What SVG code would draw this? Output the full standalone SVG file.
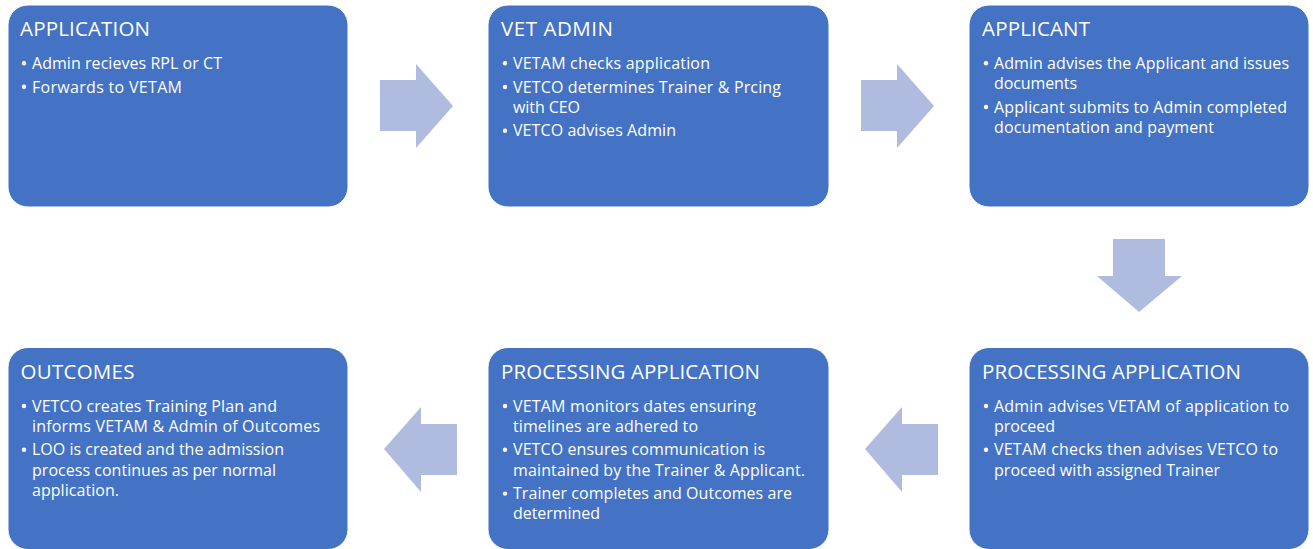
<svg xmlns="http://www.w3.org/2000/svg" width="1313" height="549" viewBox="0 0 1313 549">
<style>
.box{fill:#4472C4;stroke:#ffffff;stroke-width:1}
.arrow{fill:#AFBCDF}
.t{font-family:"Open Sans","Liberation Sans",sans-serif;font-size:20.5px;fill:#ffffff}
.b{font-family:"Open Sans","Liberation Sans",sans-serif;font-size:16px;fill:#ffffff}
.d{fill:#ffffff}
</style>
<defs>
<circle id="dot" class="d" r="2.2"/>
</defs>
<rect width="1313" height="549" fill="#ffffff"/>
<g id="connectors">
<polygon class="arrow" points="380,80 416,80 416,64 453,106 416,148 416,131 380,131"/>
<polygon class="arrow" points="861,80 897,80 897,64 934,106 897,148 897,131 861,131"/>
<polygon class="arrow" points="1113,239 1165,239 1165,276 1182,276 1139,312 1097,276 1113,276"/>
<polygon class="arrow" points="938,424 902,424 902,407 865,449 902,492 902,475 938,475"/>
<polygon class="arrow" points="457,424 421,424 421,407 384,449 421,492 421,475 457,475"/>
</g>
<g id="application">
<rect class="box" x="8" y="5" width="340" height="202" rx="20"/>
<text class="t" x="20" y="36" textLength="130">APPLICATION</text>
<use href="#dot" x="24" y="63.3"/><text class="b" x="32" y="69" textLength="190">Admin recieves RPL or CT</text>
<use href="#dot" x="24" y="86.8"/><text class="b" x="32" y="92.5" textLength="150">Forwards to VETAM</text>
</g>
<g id="vet-admin">
<rect class="box" x="488" y="5" width="341" height="202" rx="20"/>
<text class="t" x="501" y="36" textLength="112">VET ADMIN</text>
<use href="#dot" x="505" y="63.3"/><text class="b" x="513" y="69" textLength="197">VETAM checks application</text>
<use href="#dot" x="505" y="87"/><text class="b" x="513" y="92.7" textLength="268">VETCO determines Trainer &amp; Prcing</text>
<text class="b" x="513" y="112.7" textLength="67">with CEO</text>
<use href="#dot" x="505" y="130.7"/><text class="b" x="513" y="136.4" textLength="163">VETCO advises Admin</text>
</g>
<g id="applicant">
<rect class="box" x="969" y="5" width="340" height="202" rx="20"/>
<text class="t" x="982" y="36" textLength="108">APPLICANT</text>
<use href="#dot" x="986" y="63.3"/><text class="b" x="994" y="69" textLength="295">Admin advises the Applicant and issues</text>
<text class="b" x="994" y="89" textLength="83">documents</text>
<use href="#dot" x="986" y="107"/><text class="b" x="994" y="112.7" textLength="293">Applicant submits to Admin completed</text>
<text class="b" x="994" y="132.7" textLength="220">documentation and payment</text>
</g>
<g id="processing-application-1">
<rect class="box" x="969" y="347.5" width="340" height="202" rx="20"/>
<text class="t" x="982" y="379.3" textLength="259">PROCESSING APPLICATION</text>
<use href="#dot" x="986" y="406"/><text class="b" x="994" y="411.7" textLength="295">Admin advises VETAM of application to</text>
<text class="b" x="994" y="431.7" textLength="61">proceed</text>
<use href="#dot" x="986" y="449.7"/><text class="b" x="994" y="455.4" textLength="284">VETAM checks then advises VETCO to</text>
<text class="b" x="994" y="475.6" textLength="226">proceed with assigned Trainer</text>
</g>
<g id="processing-application-2">
<rect class="box" x="488" y="347.5" width="341" height="202" rx="20"/>
<text class="t" x="501" y="379.3" textLength="259">PROCESSING APPLICATION</text>
<use href="#dot" x="505" y="406"/><text class="b" x="513" y="411.7" textLength="243">VETAM monitors dates ensuring</text>
<text class="b" x="513" y="431.7" textLength="185">timelines are adhered to</text>
<use href="#dot" x="505" y="449.7"/><text class="b" x="513" y="455.4" textLength="252">VETCO ensures communication is</text>
<text class="b" x="513" y="475.6" textLength="292">maintained by the Trainer &amp; Applicant.</text>
<use href="#dot" x="505" y="493.6"/><text class="b" x="513" y="499.3" textLength="279">Trainer completes and Outcomes are</text>
<text class="b" x="513" y="519.3" textLength="87">determined</text>
</g>
<g id="outcomes">
<rect class="box" x="8" y="347.5" width="340" height="202" rx="20"/>
<text class="t" x="20.5" y="379.3" textLength="114">OUTCOMES</text>
<use href="#dot" x="24" y="406"/><text class="b" x="32" y="411.7" textLength="245">VETCO creates Training Plan and</text>
<text class="b" x="32" y="431.7" textLength="288">informs VETAM &amp; Admin of Outcomes</text>
<use href="#dot" x="24" y="449.7"/><text class="b" x="32" y="455.4" textLength="252">LOO is created and the admission</text>
<text class="b" x="32" y="475.6" textLength="244">process continues as per normal</text>
<text class="b" x="32" y="496.4" textLength="87">application.</text>
</g>
</svg>
